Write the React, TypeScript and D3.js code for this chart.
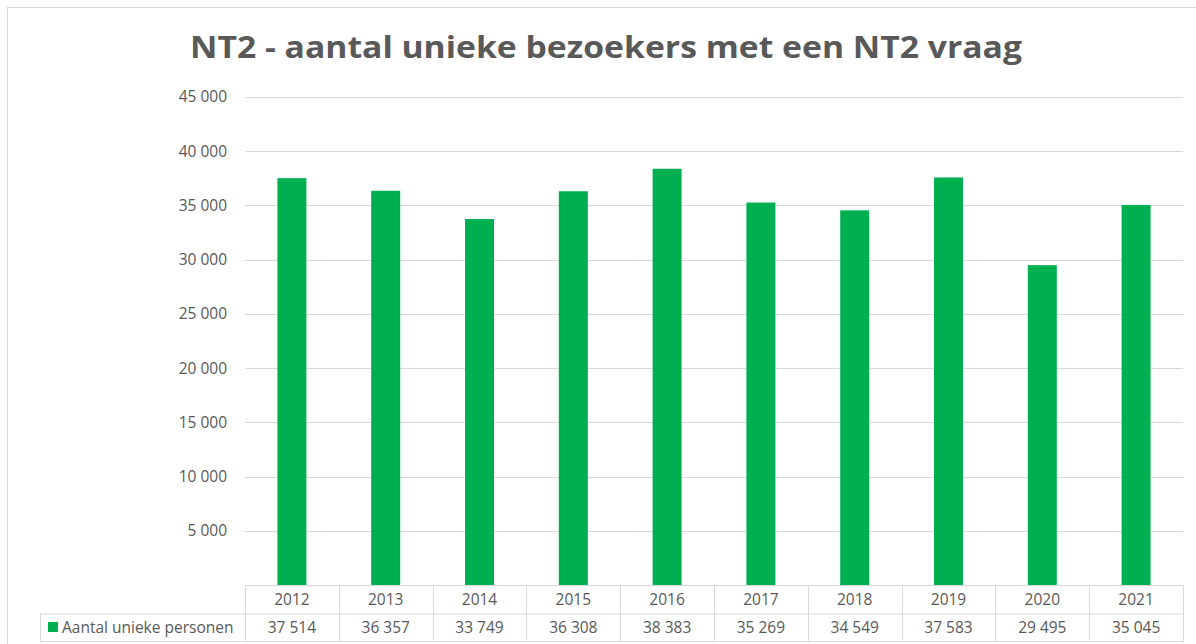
import React, { useEffect, useRef } from 'react';
import * as d3 from 'd3';

const years = ['2012', '2013', '2014', '2015', '2016', '2017', '2018', '2019', '2020', '2021'];
const visitors = [37514, 36357, 33749, 36308, 38383, 35269, 34549, 37583, 29495, 35045];
const yTicks = [5000, 10000, 15000, 20000, 25000, 30000, 35000, 40000, 45000];
const seriesName = 'Aantal unieke personen';
const title = 'NT2 - aantal unieke bezoekers met een NT2 vraag';

const fmt = (v: number) => d3.format(',')(v).replace(/,/g, ' ');

const App = () => {
    const ref = useRef<SVGSVGElement>(null);

    useEffect(() => {
        const svg = d3.select(ref.current);
        svg.selectAll('*').remove();

        const width = 1196;
        const height = 644;
        const left = 245;
        const right = 1183;
        const top = 97;
        const bottom = 585;
        const rowH = 28.5;
        const font = '"Open Sans", sans-serif';
        const fontSize = '15.5px';
        const textColor = '#595959';
        const gridColor = '#d9d9d9';
        const green = '#00b050';

        svg.attr('width', width).attr('height', height);

        // chart frame
        svg.append('rect')
            .attr('x', 7.5).attr('y', 7.5)
            .attr('width', width + 10).attr('height', height + 10)
            .attr('fill', '#fff')
            .attr('stroke', gridColor);

        // title
        svg.append('text')
            .attr('x', 606).attr('y', 58)
            .attr('text-anchor', 'middle')
            .attr('textLength', 832)
            .attr('lengthAdjust', 'spacingAndGlyphs')
            .style('font-family', font)
            .style('font-weight', 700)
            .style('font-size', '31px')
            .style('fill', textColor)
            .text(title);

        const x = d3.scaleBand().domain(years).range([left, right]).paddingInner(0).paddingOuter(0);
        const y = d3.scaleLinear().domain([0, 45000]).range([bottom, top]);

        // gridlines
        svg.append('g')
            .selectAll('line')
            .data(yTicks)
            .enter()
            .append('line')
            .attr('x1', left).attr('x2', right)
            .attr('y1', d => Math.round(y(d)) + 0.5)
            .attr('y2', d => Math.round(y(d)) + 0.5)
            .attr('stroke', gridColor);

        // y tick labels
        svg.append('g')
            .selectAll('text')
            .data(yTicks)
            .enter()
            .append('text')
            .attr('x', 227)
            .attr('y', d => y(d))
            .attr('dy', '0.35em')
            .attr('text-anchor', 'end')
            .style('font-family', font)
            .style('font-size', fontSize)
            .style('fill', textColor)
            .text(d => fmt(d));

        // bars
        const barW = 29;
        svg.append('g')
            .selectAll('rect')
            .data(visitors)
            .enter()
            .append('rect')
            .attr('x', (d, i) => x(years[i])! + x.bandwidth() / 2 - barW / 2)
            .attr('y', d => y(d))
            .attr('width', barW)
            .attr('height', d => bottom - y(d))
            .attr('fill', green);

        // data table
        const table = svg.append('g')
            .attr('stroke', gridColor)
            .attr('fill', 'none');
        const r1 = bottom;
        const r2 = bottom + rowH;
        const r3 = bottom + rowH * 2;
        table.append('line').attr('x1', left).attr('x2', right).attr('y1', r1 + 0.5).attr('y2', r1 + 0.5);
        table.append('line').attr('x1', 40).attr('x2', right).attr('y1', r2 + 0.5).attr('y2', r2 + 0.5);
        table.append('line').attr('x1', 40).attr('x2', right).attr('y1', r3 - 0.5).attr('y2', r3 - 0.5);
        table.append('line').attr('x1', 40.5).attr('x2', 40.5).attr('y1', r2).attr('y2', r3);
        table.selectAll('line.col')
            .data([...years.map(d => x(d)!), right])
            .enter()
            .append('line')
            .attr('class', 'col')
            .attr('x1', d => Math.round(d) + 0.5).attr('x2', d => Math.round(d) + 0.5)
            .attr('y1', r1).attr('y2', r3);

        svg.append('g')
            .selectAll('text')
            .data(years)
            .enter()
            .append('text')
            .attr('x', d => x(d)! + x.bandwidth() / 2)
            .attr('y', (r1 + r2) / 2)
            .attr('dy', '0.35em')
            .attr('text-anchor', 'middle')
            .style('font-family', font)
            .style('font-size', fontSize)
            .style('fill', textColor)
            .text(d => d);

        svg.append('g')
            .selectAll('text')
            .data(visitors)
            .enter()
            .append('text')
            .attr('x', (d, i) => x(years[i])! + x.bandwidth() / 2)
            .attr('y', (r2 + r3) / 2)
            .attr('dy', '0.35em')
            .attr('text-anchor', 'middle')
            .style('font-family', font)
            .style('font-size', fontSize)
            .style('fill', textColor)
            .text(d => fmt(d));

        // legend key in table
        svg.append('rect')
            .attr('x', 48).attr('y', 622)
            .attr('width', 10).attr('height', 10)
            .attr('fill', green);
        svg.append('text')
            .attr('x', 62).attr('y', (r2 + r3) / 2)
            .attr('dy', '0.35em')
            .style('font-family', font)
            .style('font-size', fontSize)
            .style('fill', textColor)
            .text(seriesName);
    }, []);

    return (
        <div style={{ position: 'absolute', left: 0, top: 0 }}>
            <svg ref={ref} style={{ display: 'block' }}></svg>
        </div>
    );
};

export default App;
